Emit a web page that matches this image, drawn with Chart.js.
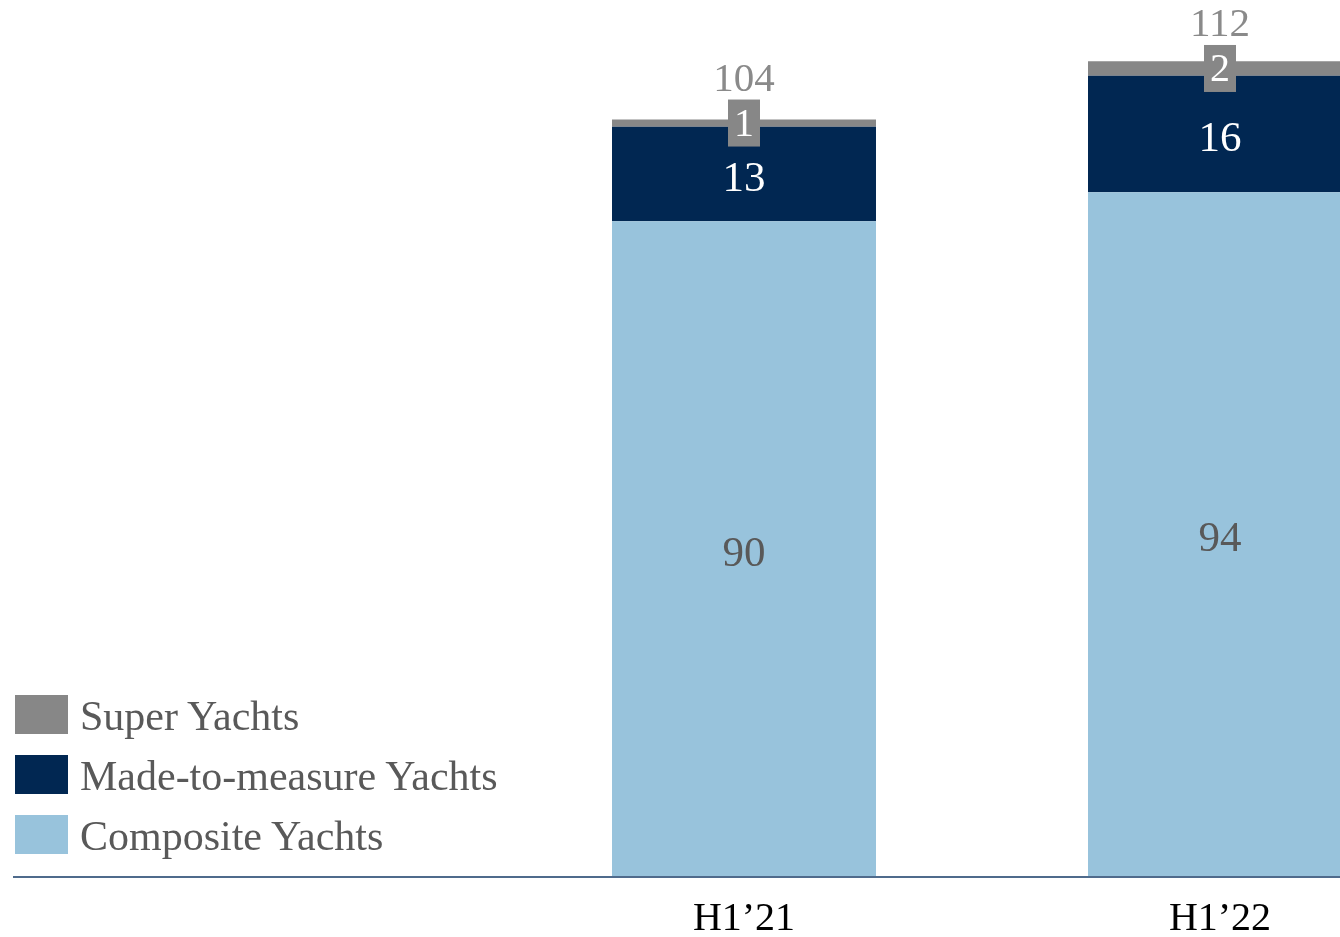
<!DOCTYPE html>
<html>
<head>
<meta charset="utf-8">
<script src="https://cdn.jsdelivr.net/npm/chart.js@4.4.1/dist/chart.umd.min.js"></script>
<style>
  html, body { margin: 0; padding: 0; background: #fff; overflow: hidden; }
  #wrap { position: absolute; left: 0; top: 0; width: 1458px; height: 937px; }
  #legend { position: absolute; left: 15px; top: 695px; margin: 0; padding: 0; list-style: none;
            font-family: "Liberation Serif", "Times New Roman", serif; font-size: 42px; color: #595959; }
  #legend li { display: flex; align-items: center; height: 39px; margin-bottom: 21px; }
  #legend .box { width: 53px; height: 39px; margin-right: 12px; flex: none; }
  #legend .txt { position: relative; top: 1px; white-space: nowrap; }
</style>
</head>
<body>
<div id="wrap">
  <canvas id="yachtChart" width="1458" height="937"></canvas>
  <ul id="legend"></ul>
</div>
<script>
// Periodi (prima colonna vuota: lascia spazio alla legenda)
const periodi = ["", "H1’21", "H1’22"];
const composite = [null, 90, 94];
const madeToMeasure = [null, 13, 16];
const superYachts = [null, 1, 2];
const totali = [null, 104, 112];

const FONT = "'Liberation Serif', 'Times New Roman', serif";

// Etichette dei valori dentro le barre + totale sopra
const etichette = {
    id: "etichette",
    afterDatasetsDraw(chart) {
        const ctx = chart.ctx;
        ctx.save();
        ctx.textAlign = "center";
        chart.data.datasets.forEach((ds, i) => {
            const meta = chart.getDatasetMeta(i);
            meta.data.forEach((bar, j) => {
                const v = ds.data[j];
                if (v == null) return;
                const cy = (bar.y + bar.base) / 2;
                if (ds.tipo === "super") {
                    // box grigio centrato sul segmento sottile
                    ctx.font = "40px " + FONT;
                    const w = ctx.measureText(String(v)).width + 12;
                    const h = 47;
                    ctx.fillStyle = ds.backgroundColor;
                    ctx.fillRect(bar.x - w / 2, cy - h / 2, w, h);
                    ctx.fillStyle = "#ffffff";
                    ctx.textBaseline = "middle";
                    ctx.fillText(String(v), bar.x, cy + 2);
                    // totale
                    ctx.font = "41px " + FONT;
                    ctx.fillStyle = "#8a8a8a";
                    ctx.textBaseline = "alphabetic";
                    ctx.fillText(String(totali[j]), bar.x, cy - h / 2 - 9);
                } else {
                    ctx.font = "43px " + FONT;
                    ctx.fillStyle = ds.labelColor;
                    ctx.textBaseline = "middle";
                    ctx.fillText(String(v), bar.x, cy + 6);
                }
            });
        });
        ctx.restore();
    }
};

// Linea di base dell'asse x
const lineaBase = {
    id: "lineaBase",
    beforeDatasetsDraw(chart) {
        const ctx = chart.ctx;
        const y = chart.chartArea.bottom + 1;
        ctx.save();
        ctx.strokeStyle = "#4f6b8c";
        ctx.lineWidth = 2;
        ctx.beginPath();
        ctx.moveTo(13, y);
        ctx.lineTo(chart.width, y);
        ctx.stroke();
        ctx.restore();
    }
};

const chart = new Chart(document.getElementById("yachtChart"), {
    type: "bar",
    data: {
        labels: periodi,
        datasets: [
            { label: "Composite Yachts", data: composite, backgroundColor: "#98c3dc", labelColor: "#595959" },
            { label: "Made-to-measure Yachts", data: madeToMeasure, backgroundColor: "#012752", labelColor: "#ffffff" },
            { label: "Super Yachts", data: superYachts, backgroundColor: "#878787", tipo: "super" }
        ]
    },
    options: {
        responsive: false,
        animation: false,
        layout: { padding: { left: 30, right: 0, top: 3, bottom: 0 } },
        datasets: { bar: { categoryPercentage: 1, barPercentage: 0.5546 } },
        plugins: { legend: { display: false }, tooltip: { enabled: false } },
        scales: {
            x: {
                stacked: true,
                grid: { display: false, drawTicks: false },
                border: { display: false },
                ticks: { color: "#000", font: { family: FONT, size: 40 }, padding: 19 },
                afterFit(scale) { scale.height = 61; }
            },
            y: { stacked: true, display: false, min: 0, max: 120 }
        }
    },
    plugins: [lineaBase, etichette]
});

// Legenda HTML (ordine inverso rispetto all'impilamento)
const legenda = document.getElementById("legend");
chart.data.datasets.slice().reverse().forEach(ds => {
    const li = document.createElement("li");
    li.innerHTML = '<span class="box" style="background:' + ds.backgroundColor + '"></span><span class="txt">' + ds.label + '</span>';
    legenda.appendChild(li);
});
</script>
</body>
</html>
